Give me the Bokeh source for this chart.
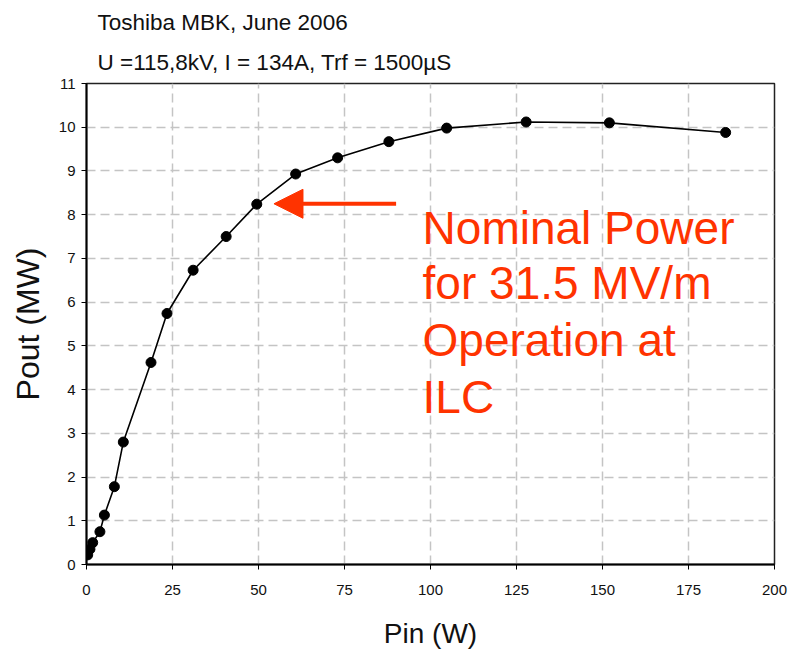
from bokeh.plotting import figure
from bokeh.models import Label, Arrow, NormalHead, FixedTicker, Range1d, Title
from bokeh.embed import file_html
from bokeh.resources import INLINE

# Data
pin_w = [0.35, 1.0, 1.8, 3.9, 5.2, 8.1, 10.7, 18.75, 23.4, 31.0, 40.6, 49.5,
         60.8, 73.0, 87.9, 104.7, 127.8, 152.0, 185.8]
pout_mw = [0.22, 0.35, 0.5, 0.75, 1.13, 1.78, 2.8, 4.62, 5.74, 6.73, 7.5, 8.24,
           8.93, 9.3, 9.67, 9.98, 10.12, 10.1, 9.88]
x_ticks = [0, 25, 50, 75, 100, 125, 150, 175, 200]
y_ticks = list(range(0, 12))
title_lines = ["Toshiba MBK, June 2006", "U =115,8kV, I = 134A, Trf = 1500\u00b5S"]
note_lines = ["Nominal Power", "for 31.5 MV/m", "Operation at", "ILC"]
nominal_pin = 49.5
nominal_pout = 8.24

RED = "#ff3300"
FONT = "Liberation Sans"

p = figure(width=789, height=660, output_backend="svg", toolbar_location=None,
           x_range=Range1d(0, 200), y_range=Range1d(0, 11),
           min_border_left=86, min_border_right=15, min_border_top=83, min_border_bottom=96)
p.background_fill_color = "white"
p.border_fill_color = "white"
p.outline_line_color = "#222222"
p.outline_line_width = 1.5

# titles: subtitle first (closest to the frame), then main line above it
p.add_layout(Title(text=title_lines[1], text_font=FONT, text_font_size="22.5px",
                   text_font_style="normal", text_color="#111111", align="left",
                   offset=11, standoff=17), "above")
p.add_layout(Title(text=title_lines[0], text_font=FONT, text_font_size="22.5px",
                   text_font_style="normal", text_color="#111111", align="left",
                   offset=11, standoff=10), "above")

# grids
for g in (p.xgrid, p.ygrid):
    g.grid_line_color = "#c4c4c4"
    g.grid_line_dash = "9 5"
    g.grid_line_width = 1.5
p.xgrid.ticker = FixedTicker(ticks=x_ticks)
p.ygrid.ticker = FixedTicker(ticks=y_ticks)

# axes
p.xaxis.ticker = FixedTicker(ticks=x_ticks)
p.yaxis.ticker = FixedTicker(ticks=y_ticks)
for ax in (p.xaxis, p.yaxis):
    ax.axis_line_color = "black"
    ax.axis_line_width = 2
    ax.major_tick_line_color = "black"
    ax.major_tick_line_width = 1
    ax.major_tick_in = 0
    ax.major_tick_out = 5
    ax.minor_tick_line_color = None
    ax.major_label_text_color = "#111111"
    ax.axis_label_text_color = "#111111"
    ax.axis_label_text_font_style = "normal"

p.xaxis.axis_label = "Pin (W)"
p.xaxis.major_label_text_font = FONT
p.xaxis.major_label_text_font_size = "15px"
p.xaxis.major_label_standoff = 15
p.xaxis.axis_label_text_font = FONT
p.xaxis.axis_label_text_font_size = "28px"
p.xaxis.axis_label_standoff = 20

p.yaxis.axis_label = "Pout (MW)"
p.yaxis.major_label_text_font = FONT
p.yaxis.major_label_text_font_size = "15px"
p.yaxis.major_label_standoff = 6
p.yaxis.axis_label_text_font = FONT
p.yaxis.axis_label_text_font_size = "32px"
p.yaxis.axis_label_standoff = 10

# data
p.line(pin_w, pout_mw, line_color="black", line_width=1.6)
p.scatter(pin_w, pout_mw, size=10, fill_color="black", line_color="black")

# annotation arrow
p.add_layout(Arrow(end=NormalHead(size=29, fill_color=RED, line_color=RED, line_width=1),
                   x_start=nominal_pin + 40.5, y_start=nominal_pout + 0.01,
                   x_end=nominal_pin + 5.0, y_end=nominal_pout + 0.01,
                   line_color=RED, line_width=4))

# annotation text
baselines = [7.7, 6.43, 5.13, 3.83]
for t, yb in zip(note_lines, baselines):
    p.add_layout(Label(x=97.7, y=yb, text=t, text_font=FONT, text_font_size="46px",
                       text_color=RED, text_baseline="alphabetic"))

open("out.html", "w").write(file_html(p, INLINE))
